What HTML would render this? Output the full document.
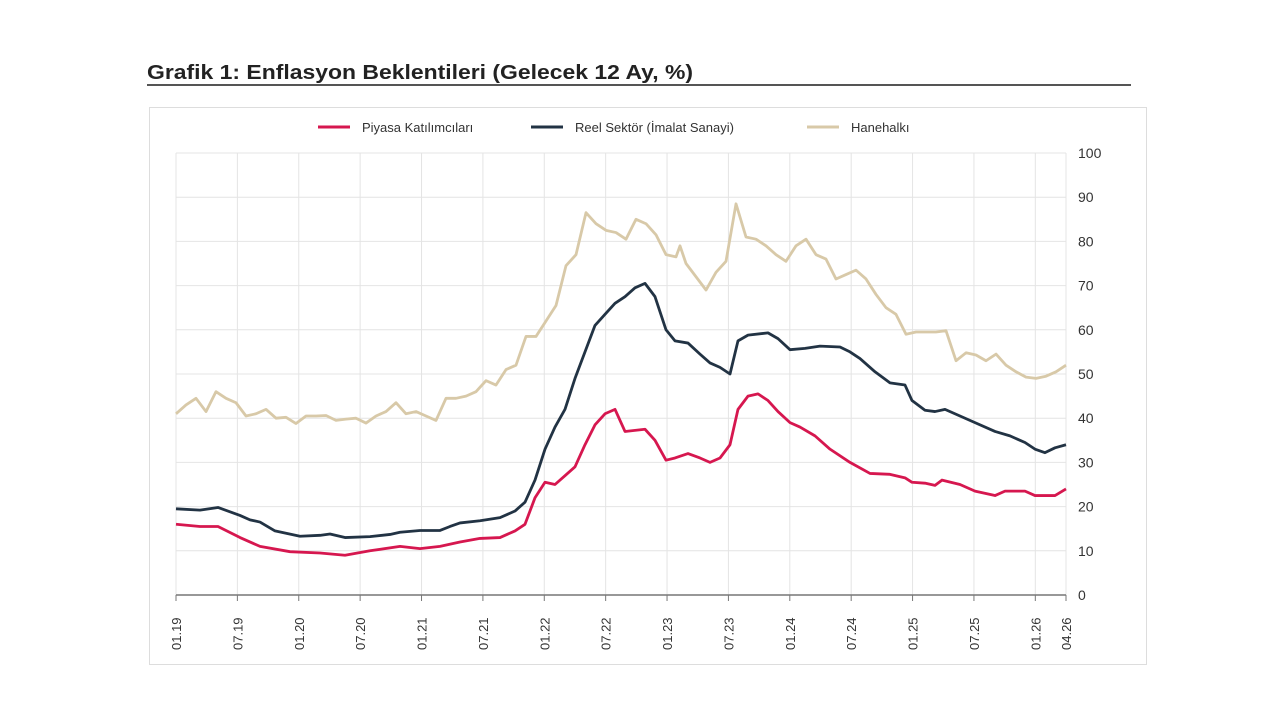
<!DOCTYPE html>
<html><head><meta charset="utf-8"><style>
body{margin:0;background:#fff;width:1280px;height:720px;overflow:hidden;font-family:"Liberation Sans",sans-serif}
</style></head><body>
<svg width="1280" height="720" xmlns="http://www.w3.org/2000/svg" font-family="Liberation Sans, sans-serif">
<text x="147" y="79" font-size="20" font-weight="bold" fill="#222" textLength="546" lengthAdjust="spacingAndGlyphs">Grafik 1: Enflasyon Beklentileri (Gelecek 12 Ay, %)</text>
<line x1="147" y1="85" x2="1131" y2="85" stroke="#555" stroke-width="2"/>
<rect x="149.5" y="107.5" width="997" height="557" fill="#fff" stroke="#ddd"/>
<g font-size="13" fill="#333">
<line x1="318" y1="127" x2="350" y2="127" stroke="#d6174f" stroke-width="3"/><text x="362" y="132">Piyasa Katılımcıları</text>
<line x1="531" y1="127" x2="563" y2="127" stroke="#223344" stroke-width="3"/><text x="575" y="132">Reel Sektör (İmalat Sanayi)</text>
<line x1="807" y1="127" x2="839" y2="127" stroke="#d8c9a8" stroke-width="3"/><text x="851" y="132">Hanehalkı</text>
</g>
<g id="grid"></g>
<g id="series"></g>
</svg>
<script>
const ns="http://www.w3.org/2000/svg",g=document.getElementById('grid'),s=document.getElementById('series');
function el(p,t,a){const e=document.createElementNS(ns,t);for(const k in a)e.setAttribute(k,a[k]);p.appendChild(e);return e}
const X0=176,DX=10.23,Y=v=>595-v*4.42;
for(let v=10;v<=100;v+=10){el(g,'line',{x1:176,x2:1066,y1:Y(v),y2:Y(v),stroke:'#e4e4e4'});}
for(let v=0;v<=100;v+=10){const t=el(g,'text',{x:1078,y:Y(v)+5,'font-size':14,fill:'#333'});t.textContent=v;}
const labs=['01.19','07.19','01.20','07.20','01.21','07.21','01.22','07.22','01.23','07.23','01.24','07.24','01.25','07.25','01.26'];
labs.forEach((l,i)=>{const x=X0+i*6*DX;el(g,'line',{x1:x,x2:x,y1:153,y2:595,stroke:'#e4e4e4'});el(g,'line',{x1:x,x2:x,y1:595,y2:601,stroke:'#777'});
const t=el(g,'text',{transform:`translate(${x+5},${650}) rotate(-90)`,'font-size':13,fill:'#333'});t.textContent=l;});
{const x=1066;el(g,'line',{x1:x,x2:x,y1:153,y2:601,stroke:'#e4e4e4'});el(g,'line',{x1:x,x2:x,y1:595,y2:601,stroke:'#777'});
const t=el(g,'text',{transform:`translate(${x+5},650) rotate(-90)`,'font-size':13,fill:'#333'});t.textContent='04.26';}
el(g,'line',{x1:176,x2:1066,y1:595,y2:595,stroke:'#777','stroke-width':1.5});
function pl(d,c){el(s,'polyline',{points:d.map(p=>p[0]+','+Y(p[1])).join(' '),fill:'none',stroke:c,'stroke-width':2.8,'stroke-linejoin':'round'});}
const beige=[[176,41],[186,43],[196,44.5],[206,41.5],[216,46],[226,44.5],[236,43.5],[246,40.5],[256,41],[266,42],[276,40],[286,40.2],[296,38.8],[306,40.5],[316,40.5],[326,40.6],[336,39.5],[346,39.8],[356,40],[366,38.9],[376,40.5],[386,41.5],[396,43.5],[406,41],[416,41.5],[426,40.5],[436,39.5],[446,44.5],[456,44.5],[466,45],[476,46],[486,48.5],[496,47.5],[506,51],[516,52],[526,58.5],[536,58.5],[546,62],[556,65.5],[566,74.5],[576,77],[586,86.5],[596,84],[606,82.5],[616,82],[626,80.5],[636,85],[646,84],[656,81.5],[666,77],[676,76.5],[680,79],[686,75],[696,72],[706,69],[716,73],[726,75.5],[736,88.5],[746,81],[756,80.5],[766,79],[776,77],[786,75.5],[796,79],[806,80.5],[816,77],[826,76],[836,71.5],[846,72.5],[856,73.5],[866,71.5],[876,68],[886,65],[896,63.5],[906,59],[916,59.5],[926,59.5],[936,59.5],[946,59.8],[956,53],[966,54.8],[976,54.3],[986,53],[996,54.5],[1006,52],[1016,50.5],[1026,49.3],[1036,49],[1046,49.5],[1056,50.5],[1066,52]];
const navy=[[176,19.5],[200,19.2],[218,19.8],[240,18],[250,17],[260,16.5],[275,14.5],[300,13.3],[320,13.5],[330,13.8],[345,13],[370,13.2],[390,13.7],[400,14.2],[420,14.6],[440,14.6],[450,15.5],[460,16.3],[480,16.8],[500,17.5],[515,19],[525,21],[535,26],[545,33],[555,38],[565,42],[575,49],[585,55],[595,61],[605,63.5],[615,66],[625,67.5],[635,69.5],[645,70.5],[655,67.5],[666,60],[675,57.5],[688,57],[700,54.5],[710,52.5],[720,51.5],[730,50],[738,57.5],[748,58.8],[768,59.3],[778,58],[790,55.5],[805,55.8],[820,56.3],[840,56.1],[850,55],[860,53.5],[875,50.5],[890,48],[905,47.5],[912,44],[925,41.8],[935,41.5],[945,42],[960,40.5],[975,39],[995,37],[1010,36],[1025,34.5],[1035,33],[1045,32.2],[1055,33.3],[1066,34]];
const red=[[176,16],[200,15.5],[218,15.5],[240,13],[260,11],[290,9.8],[320,9.5],[345,9],[370,10],[400,11],[420,10.5],[440,11],[460,12],[480,12.8],[500,13],[515,14.5],[525,16],[535,22],[545,25.5],[555,25],[565,27],[575,29],[585,34],[595,38.5],[605,41],[615,42],[625,37],[645,37.5],[655,35],[666,30.5],[675,31],[688,32],[700,31],[710,30],[720,31],[730,34],[738,42],[748,45],[758,45.5],[768,44],[778,41.5],[790,39],[800,38],[815,36],[830,33],[850,30],[870,27.5],[890,27.3],[905,26.5],[912,25.5],[925,25.3],[935,24.8],[942,26],[960,25],[975,23.5],[995,22.5],[1005,23.5],[1025,23.5],[1035,22.5],[1055,22.5],[1066,24]];
pl(beige,'#d8c9a8');pl(navy,'#223344');pl(red,'#d6174f');
</script>
</body></html>
